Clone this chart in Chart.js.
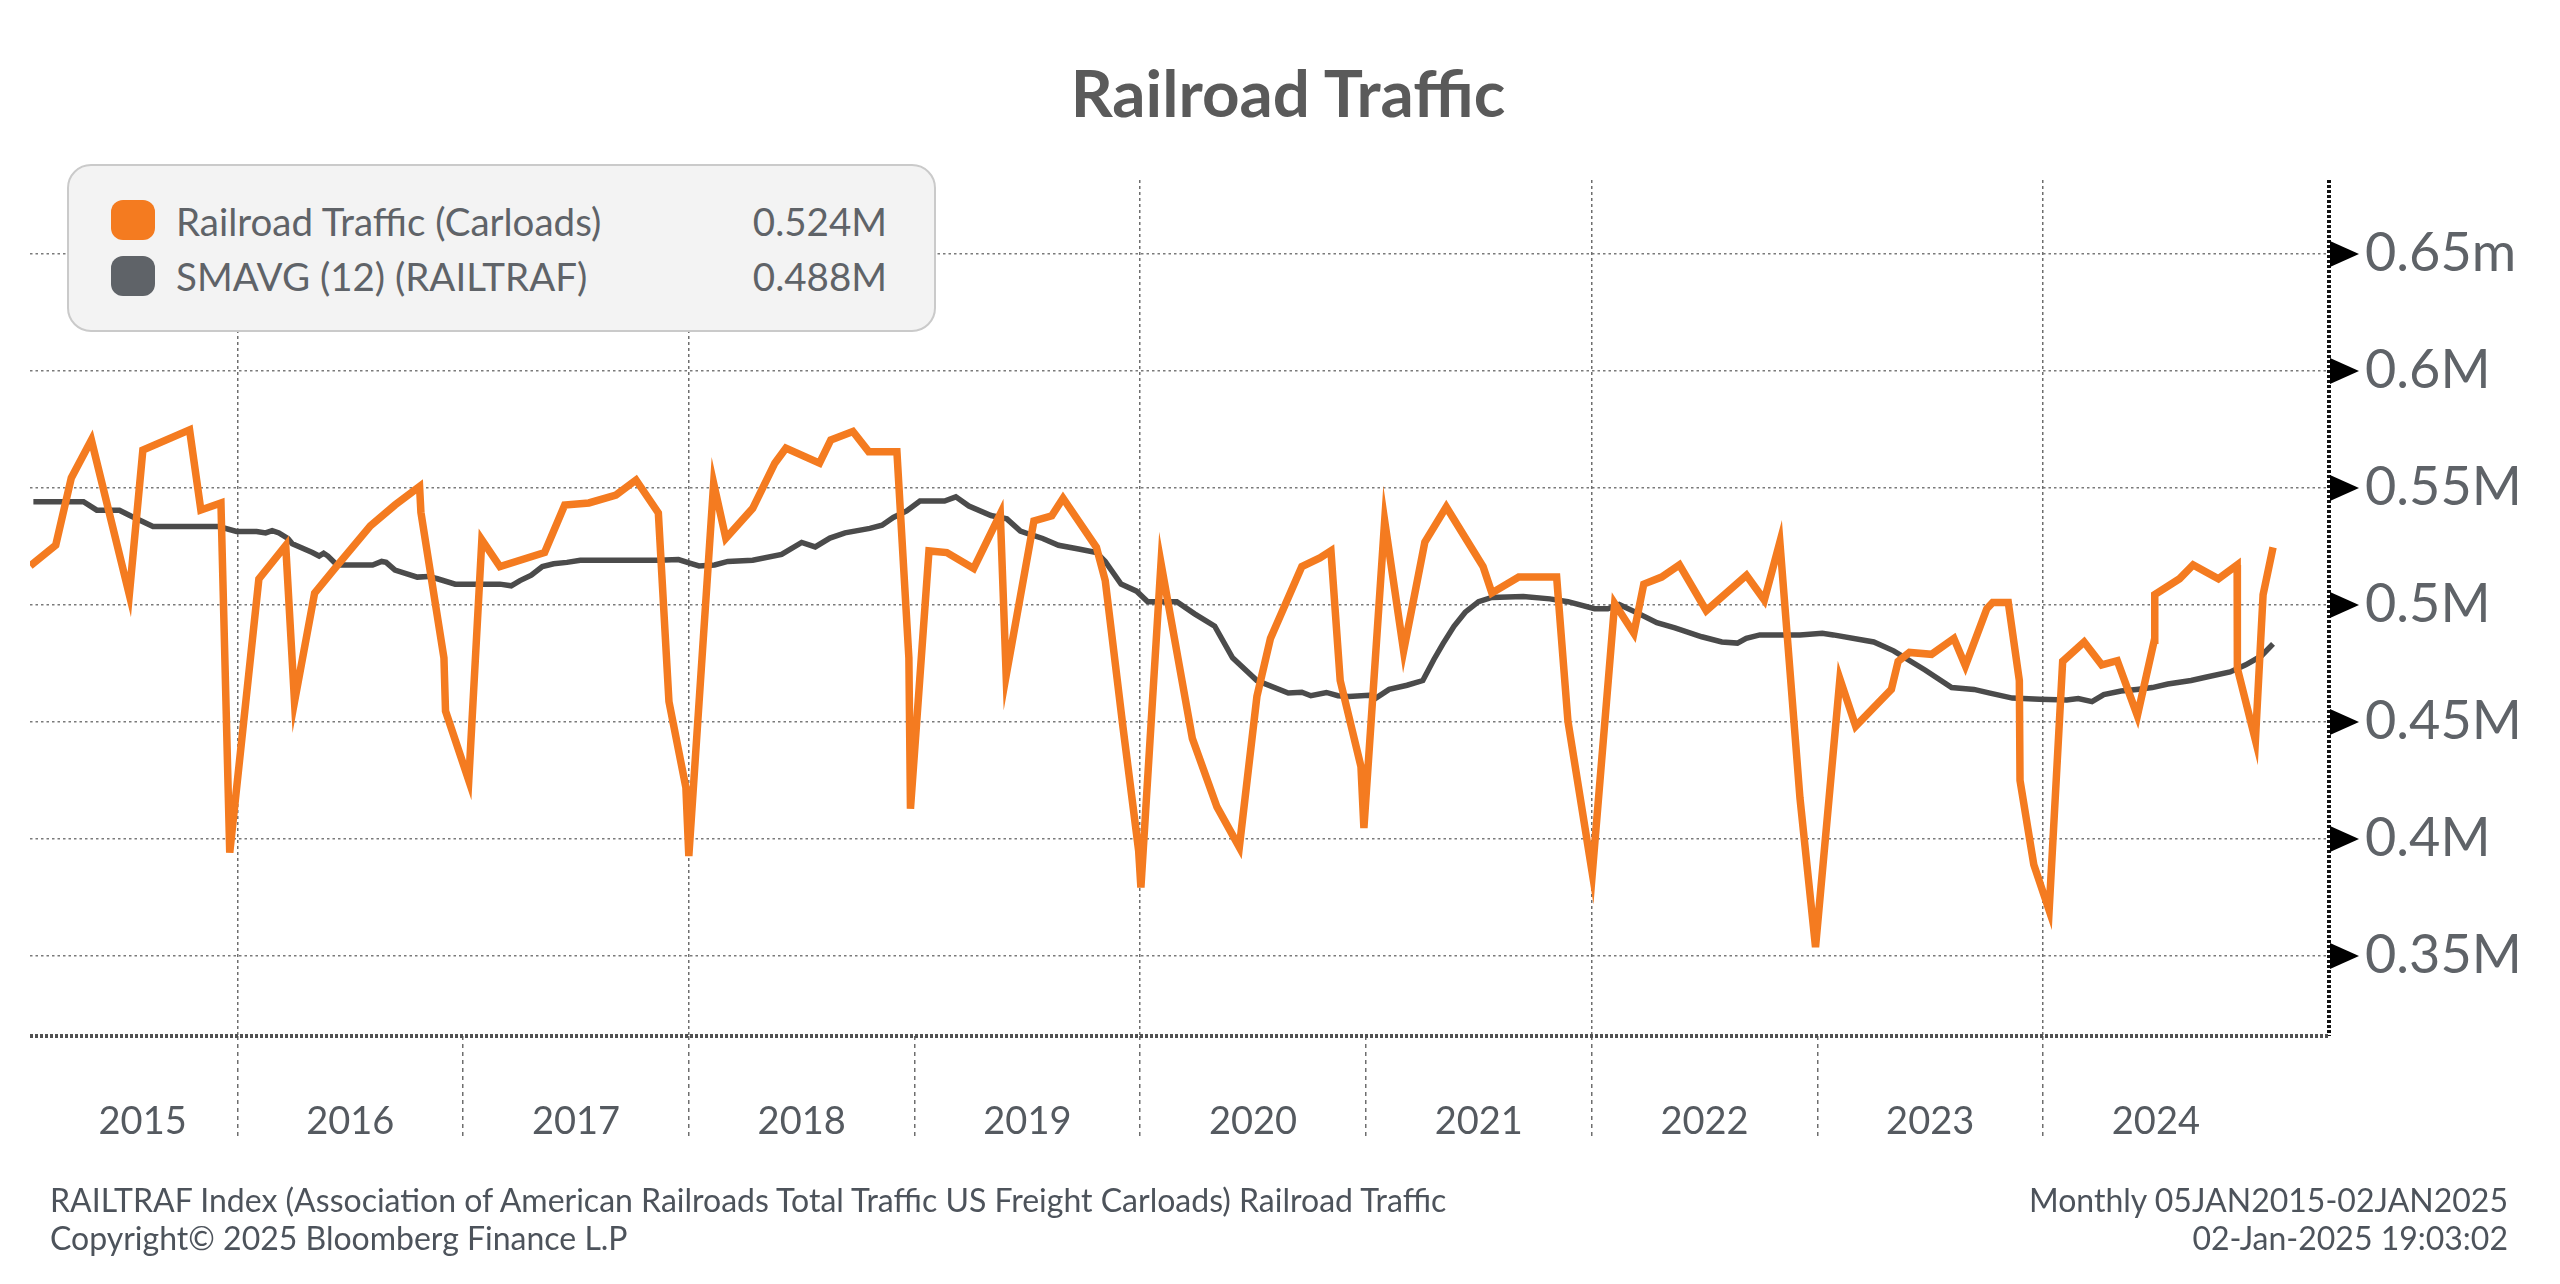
<!DOCTYPE html>
<html>
<head>
<meta charset="utf-8">
<title>Railroad Traffic</title>
<script src="https://cdn.jsdelivr.net/npm/chart.js@4.4.1/dist/chart.umd.min.js"></script>
<style>
  body { margin: 0; background: #fff; font-family: Lato, "Open Sans", sans-serif; }
  #wrap { position: relative; width: 2560px; height: 1284px; overflow: hidden; }
  #wrap canvas { position: absolute; left: 0; top: 0; }
  .txt { position: absolute; white-space: nowrap; color: #5f6368; }
  #title { left: 8px; width: 2560px; top: 60px; text-align: center; font-weight: 700; font-size: 65.5px; line-height: 64px; color: #5a5a5a; }
  #legendBox { position: absolute; left: 67px; top: 164px; width: 865px; height: 164px; background: #f3f3f3; border: 2px solid #cacaca; border-radius: 24px; }
  .swatch { position: absolute; left: 111px; width: 44px; height: 40px; border-radius: 12px; }
  .leg { font-size: 38.5px; line-height: 38px; }
  .legVal { right: 1673px; text-align: right; }
  .foot { font-size: 32px; line-height: 30px; color: #4d535b; }
</style>
</head>
<body>
<div id="wrap">
  <canvas id="chart" width="2560" height="1284"></canvas>
  <div class="txt" id="title">Railroad Traffic</div>
  <div id="legendBox"></div>
  <div class="swatch" style="top:200px; background:#f47b20;"></div>
  <div class="swatch" style="top:256px; background:#5f6368;"></div>
  <div class="txt leg" style="left:176px; top:202px;">Railroad Traffic (Carloads)</div>
  <div class="txt leg" style="left:176px; top:257px;">SMAVG (12) (RAILTRAF)</div>
  <div class="txt leg legVal" style="top:202px;">0.524M</div>
  <div class="txt leg legVal" style="top:257px;">0.488M</div>
  <div class="txt foot" style="left:50px; top:1185px;">RAILTRAF Index (Association of American Railroads Total Traffic US Freight Carloads) Railroad Traffic</div>
  <div class="txt foot" style="left:50px; top:1223px;">Copyright© 2025 Bloomberg Finance L.P</div>
  <div class="txt foot" style="right:52px; top:1185px; text-align:right;">Monthly 05JAN2015-02JAN2025</div>
  <div class="txt foot" style="right:52px; top:1223px; text-align:right;">02-Jan-2025 19:03:02</div>
</div>
<script>
// dates as decimal years, values in thousands of carloads
const trafficDates = [
  2015.082, 2015.195, 2015.264, 2015.353, 2015.521, 2015.581, 2015.788, 2015.838, 2015.927, 2015.966,
  2016.095, 2016.214, 2016.253, 2016.342, 2016.451, 2016.589, 2016.698, 2016.807, 2016.813, 2016.915,
  2016.922, 2017.025, 2017.083, 2017.163, 2017.361, 2017.450, 2017.557, 2017.677, 2017.766, 2017.865,
  2017.912, 2017.987, 2018.000, 2018.110, 2018.164, 2018.283, 2018.381, 2018.430, 2018.579, 2018.629,
  2018.727, 2018.797, 2018.922, 2018.975, 2018.982, 2019.064, 2019.143, 2019.262, 2019.380, 2019.406,
  2019.529, 2019.608, 2019.658, 2019.806, 2019.845, 2019.924, 2019.993, 2020.003, 2020.092, 2020.231,
  2020.340, 2020.439, 2020.517, 2020.577, 2020.716, 2020.796, 2020.845, 2020.886, 2020.978, 2020.991,
  2021.083, 2021.167, 2021.261, 2021.356, 2021.519, 2021.558, 2021.677, 2021.845, 2021.895, 2022.003,
  2022.102, 2022.187, 2022.231, 2022.310, 2022.389, 2022.508, 2022.686, 2022.765, 2022.834, 2022.923,
  2022.992, 2023.100, 2023.170, 2023.328, 2023.358, 2023.408, 2023.506, 2023.605, 2023.656, 2023.751,
  2023.777, 2023.846, 2023.895, 2023.898, 2023.959, 2024.027, 2024.087, 2024.182, 2024.260, 2024.329,
  2024.418, 2024.493, 2024.495, 2024.605, 2024.665, 2024.777, 2024.860, 2024.861, 2024.941, 2024.975, 2025.019
];
const trafficValues = [
  516.7, 525.6, 554.3, 570.5, 504.4, 566.2, 574.8, 540.6, 543.6, 394.2,
  511.1, 525.4, 458.7, 505.1, 517.9, 533.8, 542.7, 550.6, 539.6, 477.4,
  454.7, 425.0, 527.8, 516.4, 522.4, 542.7, 543.6, 547.0, 553.4, 539.3,
  458.7, 422.0, 392.7, 552.0, 528.5, 541.3, 560.6, 567.0, 560.6, 570.5,
  574.1, 565.5, 565.5, 477.4, 412.9, 523.1, 522.4, 515.6, 538.9, 469.9,
  535.9, 538.1, 545.6, 524.6, 510.4, 447.4, 395.0, 379.2, 517.9, 442.9,
  413.7, 396.5, 460.9, 485.7, 516.4, 520.1, 523.1, 467.7, 430.9, 404.7,
  535.9, 480.4, 526.9, 541.9, 516.4, 505.1, 511.9, 511.9, 450.4, 385.3,
  500.6, 487.9, 508.9, 511.9, 517.1, 497.6, 512.7, 502.1, 526.9, 417.5,
  353.8, 468.4, 448.2, 463.9, 475.9, 479.7, 478.9, 485.7, 474.0, 498.4,
  501.1, 501.1, 467.7, 425.0, 389.0, 369.5, 475.9, 484.2, 474.4, 476.2,
  452.7, 484.9, 504.4, 511.2, 517.1, 511.2, 517.1, 472.9, 442.2, 504.4, 524.6
];

const smaDates = [
  2015.096, 2015.318, 2015.377, 2015.477, 2015.528, 2015.626, 2015.917, 2015.996, 2016.085, 2016.125,
  2016.154, 2016.184, 2016.224, 2016.243, 2016.332, 2016.362, 2016.382, 2016.401, 2016.441, 2016.599,
  2016.639, 2016.659, 2016.698, 2016.758, 2016.797, 2016.847, 2016.886, 2016.965, 2017.163, 2017.213,
  2017.252, 2017.302, 2017.351, 2017.401, 2017.460, 2017.519, 2017.865, 2017.954, 2018.004, 2018.045,
  2018.114, 2018.173, 2018.283, 2018.411, 2018.500, 2018.560, 2018.625, 2018.692, 2018.802, 2018.856,
  2018.906, 2018.965, 2019.024, 2019.133, 2019.183, 2019.241, 2019.339, 2019.409, 2019.469, 2019.519,
  2019.568, 2019.638, 2019.727, 2019.806, 2019.845, 2019.915, 2019.984, 2020.033, 2020.162, 2020.241,
  2020.330, 2020.409, 2020.517, 2020.656, 2020.716, 2020.756, 2020.825, 2020.876, 2020.925, 2021.014,
  2021.044, 2021.103, 2021.182, 2021.252, 2021.301, 2021.341, 2021.390, 2021.440, 2021.499, 2021.558,
  2021.697, 2021.815, 2021.895, 2022.013, 2022.072, 2022.122, 2022.211, 2022.289, 2022.369, 2022.488,
  2022.577, 2022.646, 2022.685, 2022.745, 2022.923, 2023.022, 2023.071, 2023.250, 2023.338, 2023.477,
  2023.595, 2023.694, 2023.760, 2023.864, 2023.984, 2024.105, 2024.156, 2024.217, 2024.269, 2024.346,
  2024.415, 2024.484, 2024.553, 2024.656, 2024.725, 2024.829, 2024.898, 2024.967, 2025.019
];
const smaValues = [
  544.1, 544.1, 540.5, 540.5, 538.0, 533.5, 533.5, 531.4, 531.4, 530.8,
  531.8, 530.8, 528.4, 526.2, 522.4, 520.9, 522.1, 520.9, 517.1, 517.1,
  518.6, 518.2, 514.9, 513.1, 511.9, 512.2, 511.2, 508.9, 508.9, 508.2,
  510.4, 512.7, 516.4, 517.6, 518.2, 519.1, 519.1, 519.4, 517.9, 516.7,
  517.1, 518.6, 519.1, 521.6, 526.7, 524.8, 528.6, 530.8, 532.7, 534.1,
  537.4, 540.2, 544.4, 544.4, 546.2, 542.3, 538.2, 536.8, 531.6, 529.9,
  528.4, 525.5, 523.9, 522.4, 518.6, 508.9, 505.9, 501.4, 501.4, 496.2,
  490.9, 477.4, 467.7, 462.4, 462.7, 461.2, 462.6, 461.2, 460.9, 461.4,
  460.2, 463.9, 465.7, 467.7, 476.7, 483.4, 490.9, 496.9, 501.4, 503.2,
  503.6, 502.6, 501.4, 498.4, 498.4, 500.2, 496.2, 492.4, 490.2, 486.4,
  484.2, 483.7, 485.7, 487.2, 487.2, 487.9, 487.2, 484.2, 480.4, 472.2,
  464.7, 463.9, 462.4, 460.2, 459.7, 459.4, 460.0, 458.7, 461.7, 463.2,
  463.9, 464.7, 466.2, 467.7, 469.2, 471.4, 474.4, 478.2, 483.4
];

const yearLabels = [2015, 2016, 2017, 2018, 2019, 2020, 2021, 2022, 2023, 2024];
const yearLines = [2016, 2017, 2018, 2019, 2020, 2021, 2022, 2023, 2024];
const yTickValues = [350, 400, 450, 500, 550, 600, 650];
const yTickLabels = ['0.35M', '0.4M', '0.45M', '0.5M', '0.55M', '0.6M', '0.65m'];

const X_MIN = 2015.081, X_MAX = 2025.267;
const Y_MIN = 315.8, Y_MAX = 681.6;

const ORANGE = '#f47b20';
const GREY_LINE = '#4b4b4b';
const GRID = '#6e6e6e';
const CLEAR = 'rgba(0,0,0,0)';

// label sits near the middle of the visible part of each year
const labelPos = yearLabels.map(y => y === 2015 ? 2015.58 : y + 0.5);

// black arrow heads on the right axis
const tickArrows = {
    id: 'tickArrows',
    afterDraw(chart) {
        const { ctx, chartArea, scales } = chart;
        ctx.save();
        ctx.fillStyle = '#000';
        yTickValues.forEach(v => {
            const py = scales.y.getPixelForValue(v);
            ctx.beginPath();
            ctx.moveTo(chartArea.right + 1, py - 13);
            ctx.lineTo(chartArea.right + 30, py);
            ctx.lineTo(chartArea.right + 1, py + 13);
            ctx.closePath();
            ctx.fill();
        });
        ctx.restore();
    }
};

const ctx = document.getElementById('chart').getContext('2d');
new Chart(ctx, {
    type: 'line',
    data: {
        datasets: [
            {
                label: 'Railroad Traffic (Carloads)',
                data: trafficDates.map((d, i) => ({ x: d, y: trafficValues[i] })),
                borderColor: ORANGE,
                borderWidth: 7.5,
                borderJoinStyle: 'miter',
                pointRadius: 0,
                tension: 0,
                order: 0
            },
            {
                label: 'SMAVG (12) (RAILTRAF)',
                data: smaDates.map((d, i) => ({ x: d, y: smaValues[i] })),
                borderColor: GREY_LINE,
                borderWidth: 5.5,
                pointRadius: 0,
                tension: 0,
                order: 1
            }
        ]
    },
    options: {
        responsive: false,
        animation: false,
        layout: { padding: { top: 180, left: 30, right: 0, bottom: 0 } },
        plugins: { legend: { display: false }, tooltip: { enabled: false }, title: { display: false } },
        scales: {
            x: {
                type: 'linear',
                min: X_MIN,
                max: X_MAX,
                afterBuildTicks: scale => {
                    const vals = yearLines.concat(labelPos, [X_MAX]).sort((a, b) => a - b);
                    scale.ticks = vals.map(v => ({ value: v }));
                },
                afterFit: scale => { scale.height = 248; },
                ticks: {
                    autoSkip: false,
                    maxRotation: 0,
                    minRotation: 0,
                    padding: -41,
                    color: '#555a60',
                    font: { family: 'Lato', size: 38 },
                    callback: value => {
                        const i = labelPos.indexOf(value);
                        return i >= 0 ? String(yearLabels[i]) : '';
                    }
                },
                grid: {
                    color: c => {
                        const v = c.tick.value;
                        if (v === X_MAX) return '#111';
                        if (Number.isInteger(v) && v % 2 === 0) return GRID;
                        return CLEAR;
                    },
                    lineWidth: c => c.tick.value === X_MAX ? 4 : 1.5,
                    tickColor: c => Number.isInteger(c.tick.value) ? GRID : CLEAR,
                    tickLength: 104,
                    tickWidth: 1.5,
                    tickBorderDash: [4, 4]
                },
                border: {
                    display: false,
                    dash: c => (c.tick && c.tick.value === X_MAX) ? [3, 2] : [3, 3]
                }
            },
            y: {
                position: 'right',
                min: Y_MIN,
                max: Y_MAX,
                afterBuildTicks: scale => {
                    scale.ticks = [Y_MIN].concat(yTickValues).map(v => ({ value: v }));
                },
                afterFit: scale => { scale.width = 231; },
                ticks: {
                    autoSkip: false,
                    padding: 36,
                    color: '#5f6368',
                    font: { family: 'Lato', size: 54 },
                    callback: value => {
                        const i = yTickValues.indexOf(value);
                        return i >= 0 ? yTickLabels[i] : '';
                    }
                },
                grid: {
                    drawTicks: false,
                    color: c => c.tick.value === Y_MIN ? '#505050' : '#7a7a7a',
                    lineWidth: c => c.tick.value === Y_MIN ? 4 : 1.5
                },
                border: {
                    display: false,
                    dash: c => (c.tick && c.tick.value === Y_MIN) ? [3, 2] : [2.5, 3]
                }
            }
        }
    },
    plugins: [tickArrows]
});
</script>
</body>
</html>
